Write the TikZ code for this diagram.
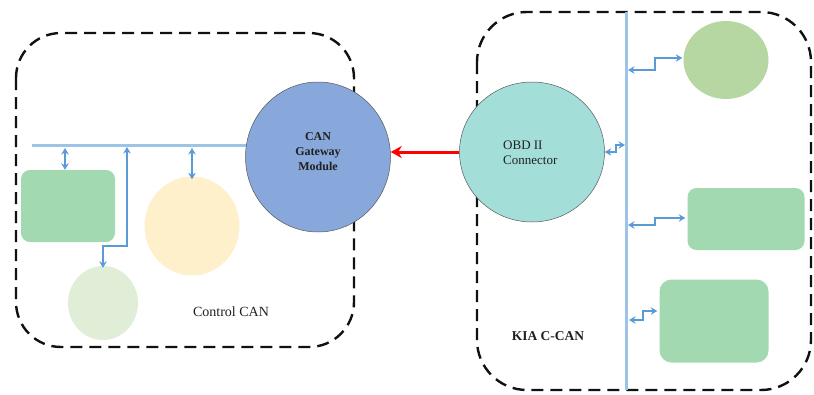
\documentclass[tikz,border=0pt]{standalone}
\usepackage{fontspec}
\setmainfont{Liberation Serif}
\usetikzlibrary{shapes.geometric,arrows.meta,backgrounds}

\definecolor{frameblack}{HTML}{111111}
\definecolor{busblue}{HTML}{9DC3E6}
\definecolor{sigblue}{HTML}{5B9BD5}
\definecolor{gwblue}{HTML}{88A7DA}
\definecolor{obdteal}{HTML}{A3DED9}
\definecolor{ecugreen}{HTML}{A2D9B1}
\definecolor{leafgreen}{HTML}{B6D6A2}
\definecolor{paleyellow}{HTML}{FFF0CC}
\definecolor{palegreen}{HTML}{E0EED8}
\definecolor{txt}{HTML}{202020}

\tikzset{
  netzone/.style={draw=frameblack, line width=2.4pt, dash pattern=on 12pt off 7pt},
  bus/.style={draw=busblue, line width=3pt},
  sig/.style={draw=sigblue, line width=2pt,
    arrows={Stealth[length=6.5pt,width=7.5pt]-Stealth[length=6.5pt,width=7.5pt]}},
  hub/.style={ellipse, draw=gray!70!black, line width=0.5pt, inner sep=0pt},
  ecu/.style={ellipse, draw=none, inner sep=0pt},
  box/.style={rectangle, rounded corners=9pt, draw=none, inner sep=0pt},
  lbl/.style={text=txt, inner sep=0pt, align=center},
}

\begin{document}
\begin{tikzpicture}[x=1pt,y=-1pt]
\useasboundingbox (0,0) rectangle (814,394);

% network zones
\draw[netzone, rounded corners=45pt] (16,33) rectangle (354,347);
\draw[netzone, rounded corners=50pt] (477,12) rectangle (811,390);

% main nodes
\node[hub, fill=gwblue, minimum width=145pt, minimum height=150pt] (gw) at (318,157) {};
\node[lbl, font=\fontsize{12}{15}\selectfont\bfseries] (gwtext) at (318,152) {CAN\\Gateway\\Module};

\node[hub, fill=obdteal, minimum width=145pt, minimum height=140pt] (obd) at (532,152) {};
\node[lbl, align=left, anchor=west, font=\fontsize{13}{15}\selectfont] (obdtext) at (503,153) {OBD II\\Connector};

% control CAN members
\node[box, fill=ecugreen, minimum width=94pt, minimum height=72pt] (ecuA) at (68,206) {};
\node[ecu, fill=paleyellow, minimum width=95pt, minimum height=99pt] (ecuB) at (192,226) {};
\node[ecu, fill=palegreen, minimum width=70pt, minimum height=74pt] (ecuC) at (103,303) {};
\node[lbl, font=\fontsize{14}{16}\selectfont] (ctrl) at (231,312) {Control CAN};

% C-CAN members
\node[ecu, fill=leafgreen, minimum width=85pt, minimum height=78pt] (ecuD) at (726,60) {};
\node[box, fill=ecugreen, minimum width=117pt, minimum height=62pt] (ecuE) at (746,219) {};
\node[box, fill=ecugreen, minimum width=109pt, minimum height=83pt, rounded corners=12pt] (ecuF) at (714,321) {};
\node[lbl, font=\fontsize{13.5}{16}\selectfont\bfseries] (kia) at (548,336) {KIA C-CAN};

% bus lines
\coordinate (busL) at (32,145);
\coordinate (busT) at (626,12);
\coordinate (busB) at (626,390);
\begin{scope}[on background layer]
  \draw[bus] (busL) -- (busL -| gw.center);
\end{scope}
\draw[bus] (busT) -- (busB);

% control CAN taps
\coordinate (tapA) at (65,148);
\draw[sig] (tapA) -- (tapA |- ecuA.north);
\draw[sig] (192,148) -- ([yshift=-3pt]ecuB.north);
\draw[sig] (127,147) -- (127,246) -- (103,246) -- ([yshift=-2pt]ecuC.north);

% C-CAN taps
\draw[sig] (628,70) -- (655,70) -- (655,58) -- ([xshift=-1pt]ecuD.west |- 0,58);
\draw[sig] (obd.east) -- (616,152) -- (616,145) -- (625,145);
\draw[sig] (628,225) -- (655,225) -- (655,218) -- ([xshift=-2pt]ecuE.west |- 0,218);
\draw[sig] (629,320) -- (643,320) -- (643,311) -- ([xshift=-2pt]ecuF.west |- 0,311);

% diagnostic link
\draw[draw=red, line width=3pt, -{Stealth[length=11pt,width=12pt]}] (obd.west) -- (gw.east |- obd.west);
\end{tikzpicture}
\end{document}
